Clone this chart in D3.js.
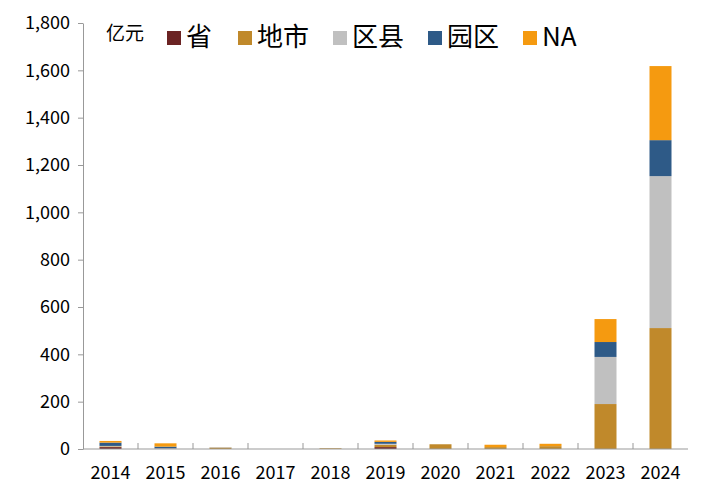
<!DOCTYPE html><html><head><meta charset="utf-8"><script src="https://cdn.jsdelivr.net/npm/d3@7"></script>
<style>body{margin:0;background:#fff}text{font-family:"Noto Sans CJK SC","Noto Sans",sans-serif}</style></head><body><svg id="c" width="723" height="501"></svg><script>
const years=["2014","2015","2016","2017","2018","2019","2020","2021","2022","2023","2024"];
const seriesNames=["省","地市","区县","园区","NA"];
const colors=["#6b2323","#c0892b","#c0c0c0","#2e5a87","#f59a10"];
const sheng=[8,1,0,0,0,8,0,0,0,0,0];
const dishi=[3,0,6,0,3,10,20,8,12,190,511];
const quxian=[2,2,2,0,0,4,0,0,0,199,642];
const yuanqu=[14,7,0,0,0,8,0,0,0,63,152];
const na=[7,14,0,0,0,6,0,10,10,97,313];
const yTicks=[0,200,400,600,800,1000,1200,1400,1600,1800];
const vals=[sheng,dishi,quxian,yuanqu,na];
const data=years.map((y,i)=>{const o={year:y};seriesNames.forEach((s,k)=>o[s]=vals[k][i]);return o;});
const svg=d3.select("#c");
const x=d3.scaleBand().domain(years).range([83,688]).paddingInner(0.6).paddingOuter(0.3);
const y=d3.scaleLinear().domain([0,1800]).range([449,23]);
const st=d3.stack().keys(seriesNames)(data);
svg.append("g").selectAll("g").data(st).join("g").attr("fill",(d,i)=>colors[i])
 .selectAll("rect").data(d=>d).join("rect").attr("x",d=>x(d.data.year)).attr("width",x.bandwidth())
 .attr("y",d=>y(d[1])).attr("height",d=>y(d[0])-y(d[1]));
const ya=svg.append("g").attr("transform","translate(83,0)").call(d3.axisLeft(y).tickValues(yTicks).tickSize(5).tickSizeOuter(0));
ya.selectAll("text").attr("font-size",18).attr("fill","#000").attr("x",-13);
ya.selectAll("line,path").attr("stroke","#999");
const step=x.step();
const xa=svg.append("g").attr("transform","translate(0,449)");
xa.append("line").attr("x1",83).attr("x2",688).attr("stroke","#999");
years.forEach((yr,i)=>{const cx=x(yr)+x.bandwidth()/2;
 if(i<years.length-1)xa.append("line").attr("x1",cx+step/2).attr("x2",cx+step/2).attr("y1",0).attr("y2",-6).attr("stroke","#999");
 xa.append("text").attr("x",cx).attr("y",30).attr("text-anchor","middle").attr("font-size",18).text(yr);});
const lg=svg.append("g");
lg.append("text").attr("x",106).attr("y",40).attr("font-size",19).text("亿元");
const lx=[167,238,333,428,523];
seriesNames.forEach((s,i)=>{lg.append("rect").attr("x",lx[i]).attr("y",31).attr("width",14).attr("height",14).attr("fill",colors[i]);
 lg.append("text").attr("x",lx[i]+19).attr("y",46).attr("font-size",26).text(s);});
</script></body></html>
